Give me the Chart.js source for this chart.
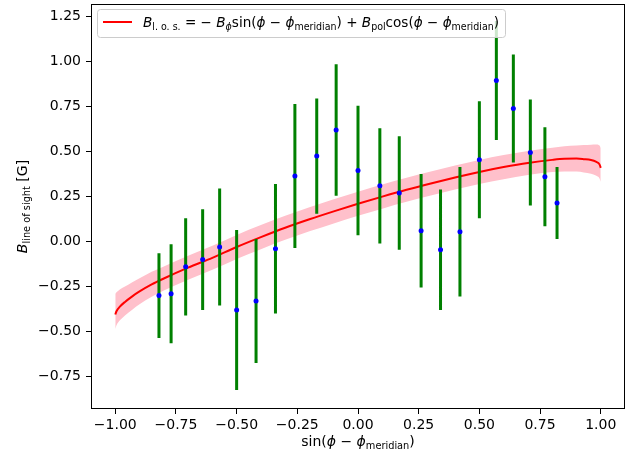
<!DOCTYPE html>
<html>
<head>
<meta charset="utf-8">
<script src="https://cdn.jsdelivr.net/npm/chart.js@4.4.1/dist/chart.umd.min.js"></script>
<style>
  html, body { margin: 0; padding: 0; background: #fff; }
  #wrap { width: 640px; height: 453px; }
</style>
</head>
<body>
<div id="wrap"><canvas id="myChart" width="640" height="453"></canvas></div>
<script>
// measured points with error bars
var xVals = [-0.82, -0.77, -0.71, -0.64, -0.57, -0.50, -0.42, -0.34, -0.26, -0.17, -0.09, 0.00,
             0.09, 0.17, 0.26, 0.34, 0.42, 0.50, 0.57, 0.64, 0.71, 0.77, 0.82];
var yVals = [-0.30, -0.29, -0.14, -0.10, -0.03, -0.38, -0.33, -0.04, 0.365, 0.475, 0.62, 0.395,
             0.31, 0.27, 0.06, -0.045, 0.055, 0.455, 0.895, 0.74, 0.495, 0.36, 0.215];
var yErr  = [0.235, 0.275, 0.27, 0.28, 0.325, 0.445, 0.345, 0.36, 0.40, 0.32, 0.365, 0.36,
             0.32, 0.315, 0.315, 0.335, 0.36, 0.325, 0.33, 0.30, 0.295, 0.275, 0.20];

// fitted curve and its uncertainty band
var fitX = [-1, -0.995, -0.98, -0.96, -0.93, -0.9, -0.85, -0.8, -0.7, -0.6, -0.5, -0.4, -0.3, -0.2, -0.1, 0,
            0.1, 0.2, 0.3, 0.4, 0.5, 0.6, 0.7, 0.8, 0.85, 0.9, 0.93, 0.96, 0.98, 0.995, 1];
var fitY = [-0.405, -0.387, -0.36, -0.335, -0.304, -0.277, -0.238, -0.205, -0.145, -0.09, -0.03, 0.025,
            0.077, 0.124, 0.168, 0.21, 0.25, 0.288, 0.323, 0.356, 0.387, 0.414, 0.437, 0.454,
            0.46, 0.461, 0.458, 0.453, 0.444, 0.429, 0.41];
var bandHigh = [-0.29, -0.282, -0.265, -0.25, -0.226, -0.204, -0.168, -0.138, -0.078, -0.023, 0.037, 0.092,
                0.144, 0.191, 0.235, 0.277, 0.317, 0.355, 0.39, 0.423, 0.454, 0.481, 0.504, 0.521,
                0.53, 0.534, 0.536, 0.538, 0.539, 0.534, 0.52];
var bandLow = [-0.485, -0.465, -0.436, -0.41, -0.378, -0.348, -0.307, -0.272, -0.212, -0.157, -0.097, -0.042,
               0.01, 0.057, 0.101, 0.143, 0.183, 0.221, 0.256, 0.289, 0.32, 0.347, 0.37, 0.386,
               0.39, 0.389, 0.384, 0.377, 0.367, 0.351, 0.332];

var xTicks = [-1.00, -0.75, -0.50, -0.25, 0.00, 0.25, 0.50, 0.75, 1.00];
var yTicks = [-0.75, -0.50, -0.25, 0.00, 0.25, 0.50, 0.75, 1.00, 1.25];

var legendSegs = [
    {t: "B", it: 1}, {t: "l. o. s.", sub: 1}, {t: " = \u2212 "}, {t: "B", it: 1}, {t: "\u03d5", it: 1, sub: 1},
    {t: "sin("}, {t: "\u03d5", it: 1}, {t: " \u2212 "}, {t: "\u03d5", it: 1}, {t: "meridian", sub: 1},
    {t: ") + "}, {t: "B", it: 1}, {t: "pol", sub: 1}, {t: "cos("}, {t: "\u03d5", it: 1}, {t: " \u2212 "},
    {t: "\u03d5", it: 1}, {t: "meridian", sub: 1}, {t: ")"}
];
var xTitleSegs = [{t: "sin("}, {t: "\u03d5", it: 1}, {t: " \u2212 "}, {t: "\u03d5", it: 1}, {t: "meridian", sub: 1}, {t: ")"}];
var yTitleSegs = [{t: "B", it: 1}, {t: "line of sight", sub: 1}, {t: " [G]"}];

var FONT = '"DejaVu Sans"';

function fmt(v) {
    return (v < 0 ? "\u2212" : "") + Math.abs(v).toFixed(2);
}

// draws a run of text pieces, some italic, some as subscripts
function drawMath(ctx, segs, x, y, size, align, fitW) {
    var w = 0;
    var items = segs.map(function (s) {
        var fs = s.sub ? size * 0.7 : size;
        var font = (s.it ? "italic " : "") + fs + "px " + FONT;
        ctx.font = font;
        var mw = ctx.measureText(s.t).width;
        w += mw;
        return {s: s, font: font, mw: mw};
    });
    var k = fitW ? fitW / w : 1;
    ctx.save();
    ctx.translate(align === "center" ? x - w * k / 2 : x, y);
    ctx.scale(k, 1);
    ctx.textAlign = "left";
    ctx.textBaseline = "alphabetic";
    ctx.fillStyle = "#000";
    var cx = 0;
    items.forEach(function (it) {
        ctx.font = it.font;
        ctx.fillText(it.s.t, cx, it.s.sub ? size * 0.22 : 0);
        cx += it.mw;
    });
    ctx.restore();
}

var decor = {
    id: "decor",
    afterDraw: function (chart) {
        var ctx = chart.ctx, a = chart.chartArea;
        ctx.save();
        // axes frame
        ctx.strokeStyle = "#000";
        ctx.lineWidth = 1;
        ctx.strokeRect(Math.round(a.left) + 0.5, Math.round(a.top) + 0.5,
                       Math.round(a.right - a.left) - 1, Math.round(a.bottom - a.top) - 1);
        // legend
        ctx.beginPath();
        ctx.roundRect(97.5, 9.5, 408, 28, 3);
        ctx.fillStyle = "rgba(255,255,255,0.8)";
        ctx.fill();
        ctx.strokeStyle = "#cccccc";
        ctx.stroke();
        ctx.beginPath();
        ctx.moveTo(103, 22);
        ctx.lineTo(132, 22);
        ctx.strokeStyle = "#ff0000";
        ctx.lineWidth = 2;
        ctx.stroke();
        drawMath(ctx, legendSegs, 143, 27, 14, "left", 356);
        // axis titles
        drawMath(ctx, xTitleSegs, (a.left + a.right) / 2, 446, 14, "center");
        ctx.translate(27, (a.top + a.bottom) / 2);
        ctx.rotate(-Math.PI / 2);
        drawMath(ctx, yTitleSegs, 0, 0, 14, "center");
        ctx.restore();
    }
};

var points = xVals.map(function (x, i) { return {x: x, y: yVals[i]}; });
var bars = [];
xVals.forEach(function (x, i) {
    bars.push({x: x, y: yVals[i] - yErr[i]});
    bars.push({x: x, y: yVals[i] + yErr[i]});
    bars.push({x: x, y: null});
});
var fitLine = fitX.map(function (x, i) { return {x: x, y: fitY[i]}; });
var hiLine = fitX.map(function (x, i) { return {x: x, y: bandHigh[i]}; });
var loLine = fitX.map(function (x, i) { return {x: x, y: bandLow[i]}; });

var tickFont = {family: FONT, size: 14};

var ctx = document.getElementById("myChart").getContext("2d");
var myChart = new Chart(ctx, {
    type: "line",
    data: {
        datasets: [
            {   // 0: data points (drawn on top)
                data: points,
                showLine: false,
                pointRadius: 2.5,
                pointBackgroundColor: "#0000ff",
                pointBorderWidth: 0
            },
            {   // 1: error bars
                data: bars,
                borderColor: "#008000",
                borderWidth: 3,
                borderCapStyle: "butt",
                pointRadius: 0,
                spanGaps: false
            },
            {   // 2: fit
                data: fitLine,
                borderColor: "#ff0000",
                borderWidth: 2,
                pointRadius: 0,
                cubicInterpolationMode: "monotone"
            },
            {   // 3: band upper edge, filled down to 4
                data: hiLine,
                borderWidth: 0,
                borderColor: "rgba(0,0,0,0)",
                backgroundColor: "#ffc0cb",
                pointRadius: 0,
                fill: 4,
                cubicInterpolationMode: "monotone"
            },
            {   // 4: band lower edge
                data: loLine,
                borderWidth: 0,
                borderColor: "rgba(0,0,0,0)",
                pointRadius: 0,
                fill: false,
                cubicInterpolationMode: "monotone"
            }
        ]
    },
    options: {
        responsive: false,
        maintainAspectRatio: false,
        animation: false,
        layout: {padding: {left: 0, right: 15, top: 4, bottom: 0}},
        plugins: {
            legend: {display: false},
            tooltip: {enabled: false}
        },
        scales: {
            x: {
                type: "linear",
                min: -1.1,
                max: 1.1,
                afterBuildTicks: function (s) { s.ticks = xTicks.map(function (v) { return {value: v}; }); },
                afterFit: function (s) { s.height = 44; s.paddingLeft = 0; s.paddingRight = 0; },
                ticks: {
                    font: tickFont, color: "#000", padding: 3, maxRotation: 0, autoSkip: false,
                    callback: function (v) { return fmt(v); }
                },
                grid: {drawOnChartArea: false, drawTicks: true, tickLength: 5, tickColor: "#000", tickWidth: 1},
                border: {display: false}
            },
            y: {
                type: "linear",
                min: -0.93,
                max: 1.32,
                afterBuildTicks: function (s) { s.ticks = yTicks.map(function (v) { return {value: v}; }); },
                afterFit: function (s) { s.width = 91; s.paddingTop = 0; s.paddingBottom = 0; },
                ticks: {
                    font: tickFont, color: "#000", padding: 5, autoSkip: false,
                    callback: function (v) { return fmt(v); }
                },
                grid: {drawOnChartArea: false, drawTicks: true, tickLength: 5, tickColor: "#000", tickWidth: 1},
                border: {display: false}
            }
        }
    },
    plugins: [decor]
});
</script>
</body>
</html>
